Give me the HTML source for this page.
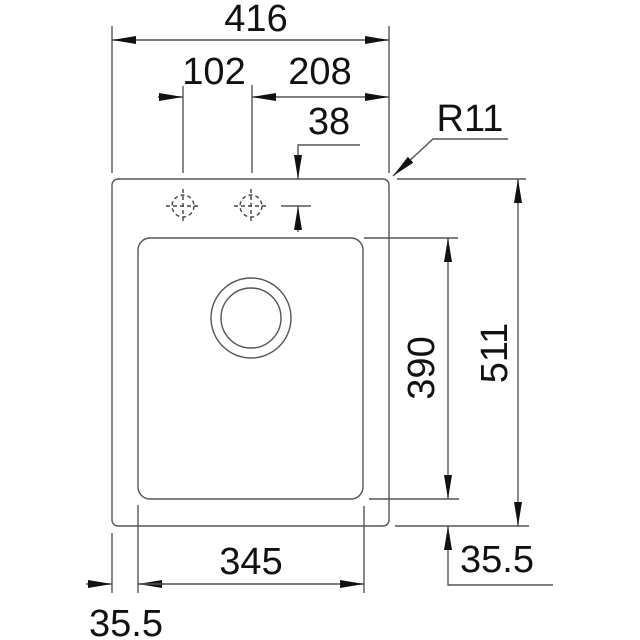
<!DOCTYPE html>
<html><head><meta charset="utf-8"><style>
html,body{margin:0;padding:0;background:#fff;}
svg{display:block}
text{font-family:"Liberation Sans",sans-serif;font-size:38px;fill:#111;}
</style></head><body>
<svg width="640" height="640" viewBox="0 0 640 640">
<defs>
<marker id="a" viewBox="0 0 10 10" refX="10" refY="5" markerWidth="24" markerHeight="8" markerUnits="userSpaceOnUse" orient="auto-start-reverse" preserveAspectRatio="none"><path d="M0,0L10,5L0,10z" fill="#111"/></marker>
</defs>
<g stroke="#555" stroke-width="1.4" fill="none">
<rect x="112" y="179" width="277" height="347" rx="6"/>
<rect x="138" y="238" width="225" height="261" rx="12"/>
<circle cx="251" cy="318" r="40"/>
<circle cx="251" cy="318" r="30"/>
<g stroke-dasharray="4,3" stroke="#444">
<circle cx="183" cy="206" r="11"/><line x1="166" y1="206" x2="200" y2="206"/><line x1="183" y1="189" x2="183" y2="223"/>
<circle cx="251" cy="206" r="11"/><line x1="234" y1="206" x2="268" y2="206"/><line x1="251" y1="189" x2="251" y2="223"/>
</g>
<line x1="112" y1="26" x2="112" y2="173"/>
<line x1="389" y1="26" x2="389" y2="173"/>
<line x1="112" y1="40" x2="389" y2="40" marker-start="url(#a)" marker-end="url(#a)"/>
<line x1="183" y1="86" x2="183" y2="173"/>
<line x1="252" y1="85" x2="252" y2="173"/>
<line x1="158" y1="97" x2="183" y2="97" marker-end="url(#a)"/>
<line x1="252" y1="97" x2="389" y2="97" marker-start="url(#a)" marker-end="url(#a)"/>
<polyline points="360,145 298,145 298,179" marker-end="url(#a)"/>
<line x1="298" y1="232" x2="298" y2="206" marker-end="url(#a)"/>
<line x1="281" y1="206" x2="311" y2="206"/>
<polyline points="508,139 433,139 393,176" marker-end="url(#a)"/>
<line x1="397" y1="179" x2="526" y2="179"/>
<line x1="395" y1="526" x2="529" y2="526"/>
<line x1="518" y1="179" x2="518" y2="526" marker-start="url(#a)" marker-end="url(#a)"/>
<line x1="364" y1="238" x2="458" y2="238"/>
<line x1="369" y1="499" x2="459" y2="499"/>
<line x1="448" y1="238" x2="448" y2="499" marker-start="url(#a)" marker-end="url(#a)"/>
<polyline points="553,585 448,585 448,526" marker-end="url(#a)"/>
<line x1="112" y1="533" x2="112" y2="593"/>
<line x1="138" y1="505" x2="138" y2="593"/>
<line x1="364" y1="506" x2="364" y2="593"/>
<line x1="86" y1="584" x2="112" y2="584" marker-end="url(#a)"/>
<line x1="138" y1="584" x2="364" y2="584" marker-start="url(#a)" marker-end="url(#a)"/>
<line x1="138" y1="584" x2="165" y2="584"/>
</g>
<text x="256" y="31" text-anchor="middle">416</text>
<text x="214" y="84" text-anchor="middle">102</text>
<text x="320" y="84" text-anchor="middle">208</text>
<text x="329" y="134" text-anchor="middle">38</text>
<text x="470" y="131" text-anchor="middle">R11</text>
<text x="251" y="574" text-anchor="middle">345</text>
<text x="126" y="636" text-anchor="middle">35.5</text>
<text x="497" y="572" text-anchor="middle">35.5</text>
<text transform="translate(434,368) rotate(-90)" text-anchor="middle">390</text>
<text transform="translate(507,353) rotate(-90)" text-anchor="middle">511</text>
</svg>
</body></html>
